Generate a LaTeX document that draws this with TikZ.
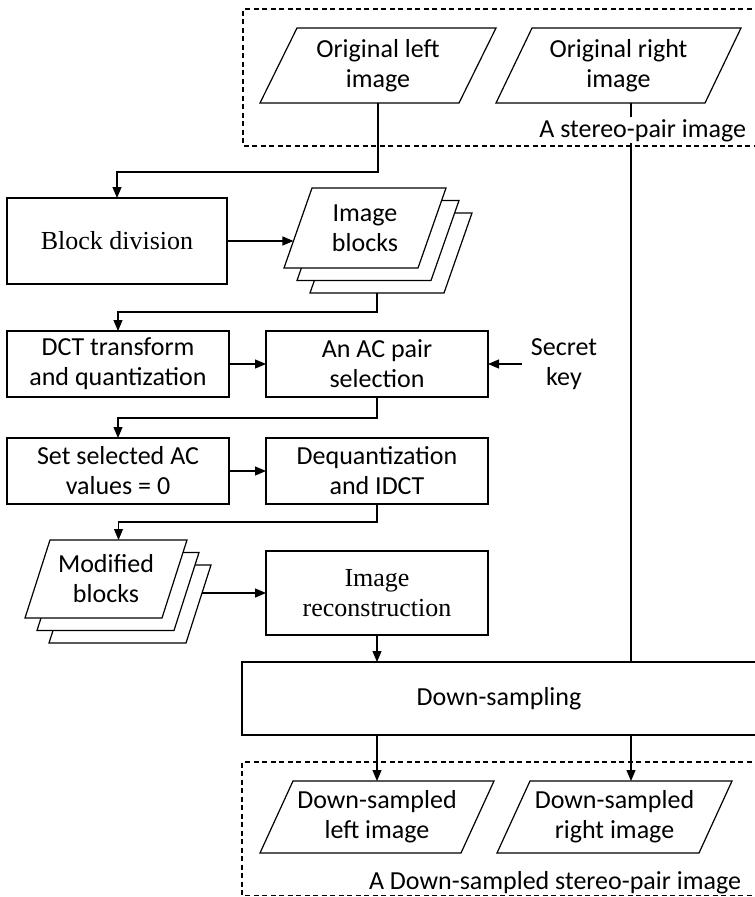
\documentclass[tikz,border=0pt]{standalone}
\usepackage{fontspec}
\setmainfont{Carlito}
\newfontfamily\serifface{Liberation Serif}
\usetikzlibrary{arrows.meta,calc,backgrounds}

% slanted input/output shape drawn round a named text node
\newcommand\slabshape[2]{%
  \begin{pgfonlayer}{background}
    \draw[slabline] ([xshift=#2]#1.north west) -- (#1.north east)
      -- ([xshift=-#2]#1.south east) -- (#1.south west) -- cycle;
  \end{pgfonlayer}}

\begin{document}
\begin{tikzpicture}[x=1pt,y=-1pt,
  every node/.style={font=\fontsize{26}{30}\selectfont, inner sep=0pt,
    outer sep=0pt, align=center},
  proc/.style={draw, line width=1.2pt, fill=white},
  slab/.style={rectangle},
  slabline/.style={line width=1.2pt, fill=white, line join=miter},
  link/.style={line width=1.2pt},
  arr/.style={link, -{Triangle[length=11pt,width=9pt]}},
  group/.style={line width=1.1pt, dash pattern=on 5pt off 3.5pt},
  tag/.style={anchor=base east, fill=white, inner sep=2pt}
]
\useasboundingbox (0,0) rectangle (755,897);
\begin{pgfonlayer}{background}
  \fill[white] (0,0) rectangle (755,897);
  \draw[group] (760,9) -- (243,9) -- (243,146) -- (760,146);
  \draw[group] (760,762) -- (242,762) -- (242,895.5) -- (760,895.5);
\end{pgfonlayer}

% stereo pair input
\node[slab, minimum width=236pt, minimum height=75pt] (origL) at (378,65.5) {Original left\\image};
\node[slab, minimum width=245pt, minimum height=75pt] (origR) at (618.5,65.5) {Original right\\image};
\slabshape{origL}{37pt}
\slabshape{origR}{36pt}
\coordinate (rx) at (631,0);

% block division and image blocks
\node[proc, minimum width=220pt, minimum height=86pt] (bd) at (117,241) {\serifface Block division};
\node[slab, minimum width=162pt, minimum height=80pt] (ib3) at (391,253) {};
\node[slab, minimum width=162pt, minimum height=80pt] (ib2) at (378,240.5) {};
\node[slab, minimum width=162pt, minimum height=80pt] (ib) at (365,228) {Image\\blocks};
\slabshape{ib3}{28pt}
\slabshape{ib2}{28pt}
\slabshape{ib}{28pt}
\coordinate (ibin) at ($(ib.south west)!0.3375!([xshift=28pt]ib.north west)$);
\coordinate (ibout) at ($(ib3.south west)!0.5!([xshift=-28pt]ib3.south east)$);

% DCT stage
\node[proc, minimum width=222pt, minimum height=66pt] (dct) at (118,364) {DCT transform\\and quantization};
\node[proc, minimum width=222pt, minimum height=66pt] (ac) at (377,364) {An AC pair\\selection};
\node[inner xsep=9pt] (key) at (564,364) {Secret\\key};

% coefficient removal and inverse transform
\node[proc, minimum width=222pt, minimum height=66pt] (set) at (118,471) {Set selected AC\\values = 0};
\node[proc, minimum width=222pt, minimum height=66pt] (deq) at (377,471) {Dequantization\\and IDCT};

% modified blocks and reconstruction
\node[slab, minimum width=162pt, minimum height=78pt] (mb3) at (130,604) {};
\node[slab, minimum width=162pt, minimum height=78pt] (mb2) at (118,591.5) {};
\node[slab, minimum width=162pt, minimum height=78pt] (mb) at (106,579) {Modified\\blocks};
\slabshape{mb3}{25pt}
\slabshape{mb2}{25pt}
\slabshape{mb}{25pt}
\coordinate (mbin) at ($([xshift=25pt]mb.north west)!0.5!(mb.north east)$);
\coordinate (mbout) at ($(mb3.north east)!0.359!([xshift=-25pt]mb3.south east)$);
\node[proc, minimum width=222pt, minimum height=84pt] (recon) at (377,593) {\serifface Image\\\serifface reconstruction};

% down-sampling and output pair
\node[proc, minimum width=514pt, minimum height=73pt] (down) at (499,698.5) {Down-sampling};
\node[slab, minimum width=234pt, minimum height=72pt] (dsl) at (377,817) {Down-sampled\\left image};
\node[slab, minimum width=235pt, minimum height=72pt] (dsr) at (614.5,817) {Down-sampled\\right image};
\slabshape{dsl}{33pt}
\slabshape{dsr}{33pt}

% connectors
\draw[arr] (origL.south) -- ++(0,69) -| (bd.north);
\draw[arr] (bd.east) -- (bd.east -| ibin);
\draw[arr] (ibout) -- ++(0,19) -| (dct.north);
\draw[arr] (dct) -- (ac);
\draw[arr] (key.west) -- (key.west -| ac.east);
\draw[arr] (ac.south) -- ++(0,21) -| (set.north);
\draw[arr] (set) -- (deq);
\draw[arr] (deq.south) -- ++(0,18) -| (mbin);
\draw[arr] (mbout) -- (mbout -| recon.west);
\draw[arr] (recon.south) -- (recon.south |- down.north);
\draw[link] (origR.south -| rx) -- (down.north -| rx);
\draw[arr] (down.south -| dsl.north) -- (dsl.north);
\draw[arr] (down.south -| rx) -- (rx |- dsr.north);

% group captions
\node[tag] (pairin) at (748,137) {A stereo-pair image};
\node[tag] (pairout) at (743,889) {A Down-sampled stereo-pair image};
\end{tikzpicture}
\end{document}
